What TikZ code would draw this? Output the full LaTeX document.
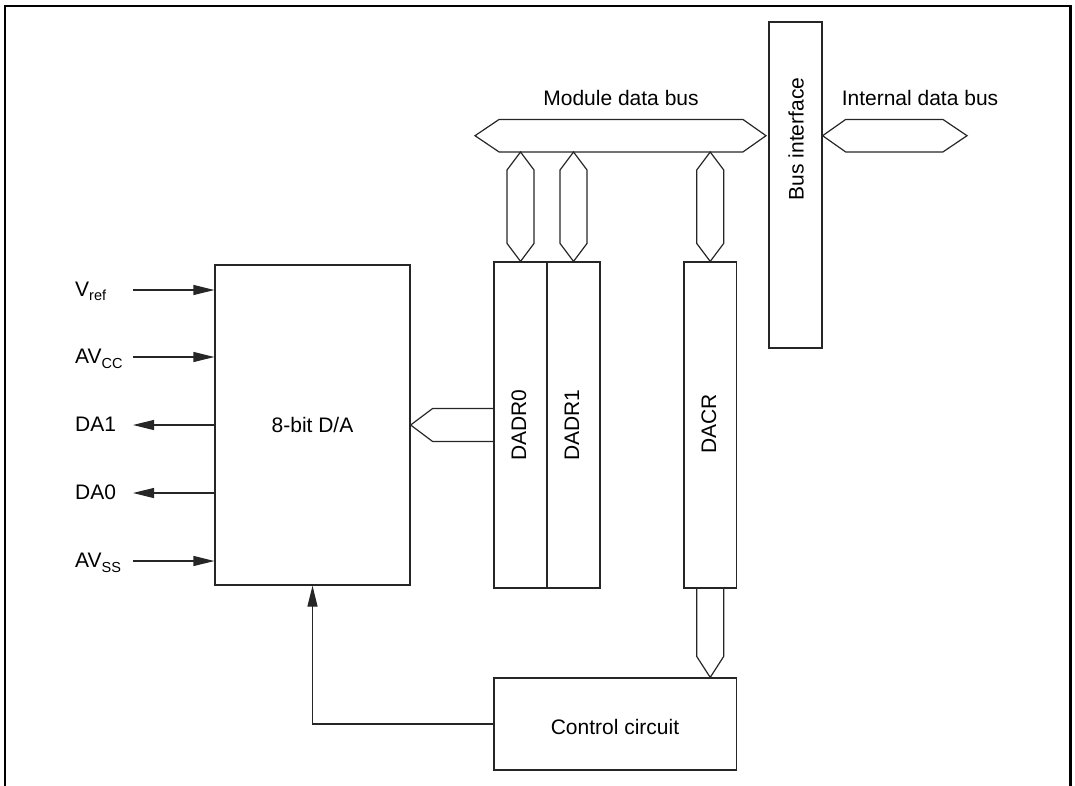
\documentclass[tikz,border=0pt]{standalone}
\usepackage{fontspec}
\setmainfont{Liberation Sans}
\usetikzlibrary{arrows.meta,calc}
\newcommand\sub[1]{\raisebox{-4.5pt}{\fontsize{14.5}{16}\selectfont #1}}
\newcommand\mkvbus[2]{\draw[lin] (#1) -- ++(-13.5,-18) -- ($(#2)+(-13.5,18)$) -- (#2) -- ($(#2)+(13.5,18)$) -- ($(#1)+(13.5,-18)$) -- cycle;}
\begin{document}
\begin{tikzpicture}[x=1pt,y=-1pt,
  lin/.style={draw=black!85,line width=1.2pt},
  blk/.style={lin,rectangle,inner sep=0pt,font=\fontsize{21}{24}\selectfont},
  lbl/.style={inner sep=0pt,font=\fontsize{21}{24}\selectfont},
  arr/.style={lin,-{Triangle[length=21pt,width=10pt]}},
  frm/.style={draw=black,line width=2.3pt}]
\useasboundingbox (0,0) rectangle (1075,785);
\draw[frm] (5,786) -- (5,5.7) -- (1070.5,5.7) -- (1070.5,786);

% blocks
\node[blk,minimum width=195pt,minimum height=320pt] (da) at (312.5,425) {8-bit D/A};
\node[blk,minimum width=53pt,minimum height=326pt] (r0) at (520.5,425) {};
\node[blk,minimum width=53pt,minimum height=326pt] (r1) at (573.5,425) {};
\node[blk,minimum width=52.5pt,minimum height=326pt] (dacr) at (710.2,425) {};
\node[blk,minimum width=53pt,minimum height=326pt] (bi) at (795.5,185) {};
\node[blk,minimum width=242.5pt,minimum height=92pt] (cc) at (615.25,724) {};

\node[lbl,rotate=90] (r0t) at (519,425) {DADR0};
\node[lbl,rotate=90] (r1t) at (572,425) {DADR1};
\node[lbl,rotate=90] (dacrt) at (709,424) {DACR};
\node[lbl,rotate=90] (bit) at (796,139) {Bus interface};
\node[lbl] (cct) at (615,727) {Control circuit};
\node[lbl] (mbt) at (621,97.5) {Module data bus};
\node[lbl] (ibt) at (920,97.5) {Internal data bus};

% module data bus
\coordinate (mbL) at (475,135.7);
\coordinate (mbR) at (766,135.7);
\coordinate (mbB) at (0,152);
\draw[lin] (mbL) -- ++(24,-16.2) -- ($(mbR)+(-23,-16.2)$) -- (mbR) -- ($(mbR)+(-23,16.2)$) -- ($(mbL)+(24,16.2)$) -- cycle;

% internal data bus
\coordinate (ibL) at (bi.east |- mbL);
\coordinate (ibR) at (967,135.7);
\draw[lin] (ibL) -- ++(23,-16.2) -- ($(ibR)+(-24,-16.2)$) -- (ibR) -- ($(ibR)+(-24,16.2)$) -- ($(ibL)+(23,16.2)$) -- cycle;

% vertical buses
\coordinate (t0) at (r0.north |- mbB);
\coordinate (t1) at (r1.north |- mbB);
\coordinate (t2) at (dacr.north |- mbB);
\mkvbus{r0.north}{t0}
\mkvbus{r1.north}{t1}
\mkvbus{dacr.north}{t2}

% DADR0 -> D/A bus
\draw[lin] ($(r0.west)+(0,-16.5)$) -- ($(da.east)+(22,-16.5)$) -- (da.east) -- ($(da.east)+(22,16.5)$) -- ($(r0.west)+(0,16.5)$);

% DACR -> control bus
\coordinate (ct) at (cc.north -| dacr.south);
\draw[lin] ($(dacr.south)+(-13.5,0)$) -- ($(ct)+(-13.5,-21)$) -- (ct) -- ($(ct)+(13.5,-21)$) -- ($(dacr.south)+(13.5,0)$);

% feedback
\draw[arr] (cc.west) -| (da.south);

% pins
\node[lbl,anchor=base west] (lvref) at (75,296) {V\sub{ref}};
\node[lbl,anchor=base west] (lavcc) at (75,363.5) {AV\sub{CC}};
\node[lbl,anchor=base west] (lda1) at (75,431.5) {DA1};
\node[lbl,anchor=base west] (lda0) at (75,499.5) {DA0};
\node[lbl,anchor=base west] (lavss) at (75,567.5) {AV\sub{SS}};

\coordinate (pvref) at (133,290);
\coordinate (pavcc) at (133,357);
\coordinate (pda1) at (133,425);
\coordinate (pda0) at (133,493);
\coordinate (pavss) at (133,561);
\draw[arr] (pvref) -- (da.west |- pvref);
\draw[arr] (pavcc) -- (da.west |- pavcc);
\draw[arr] (da.west |- pda1) -- (pda1);
\draw[arr] (da.west |- pda0) -- (pda0);
\draw[arr] (pavss) -- (da.west |- pavss);
\end{tikzpicture}
\end{document}
